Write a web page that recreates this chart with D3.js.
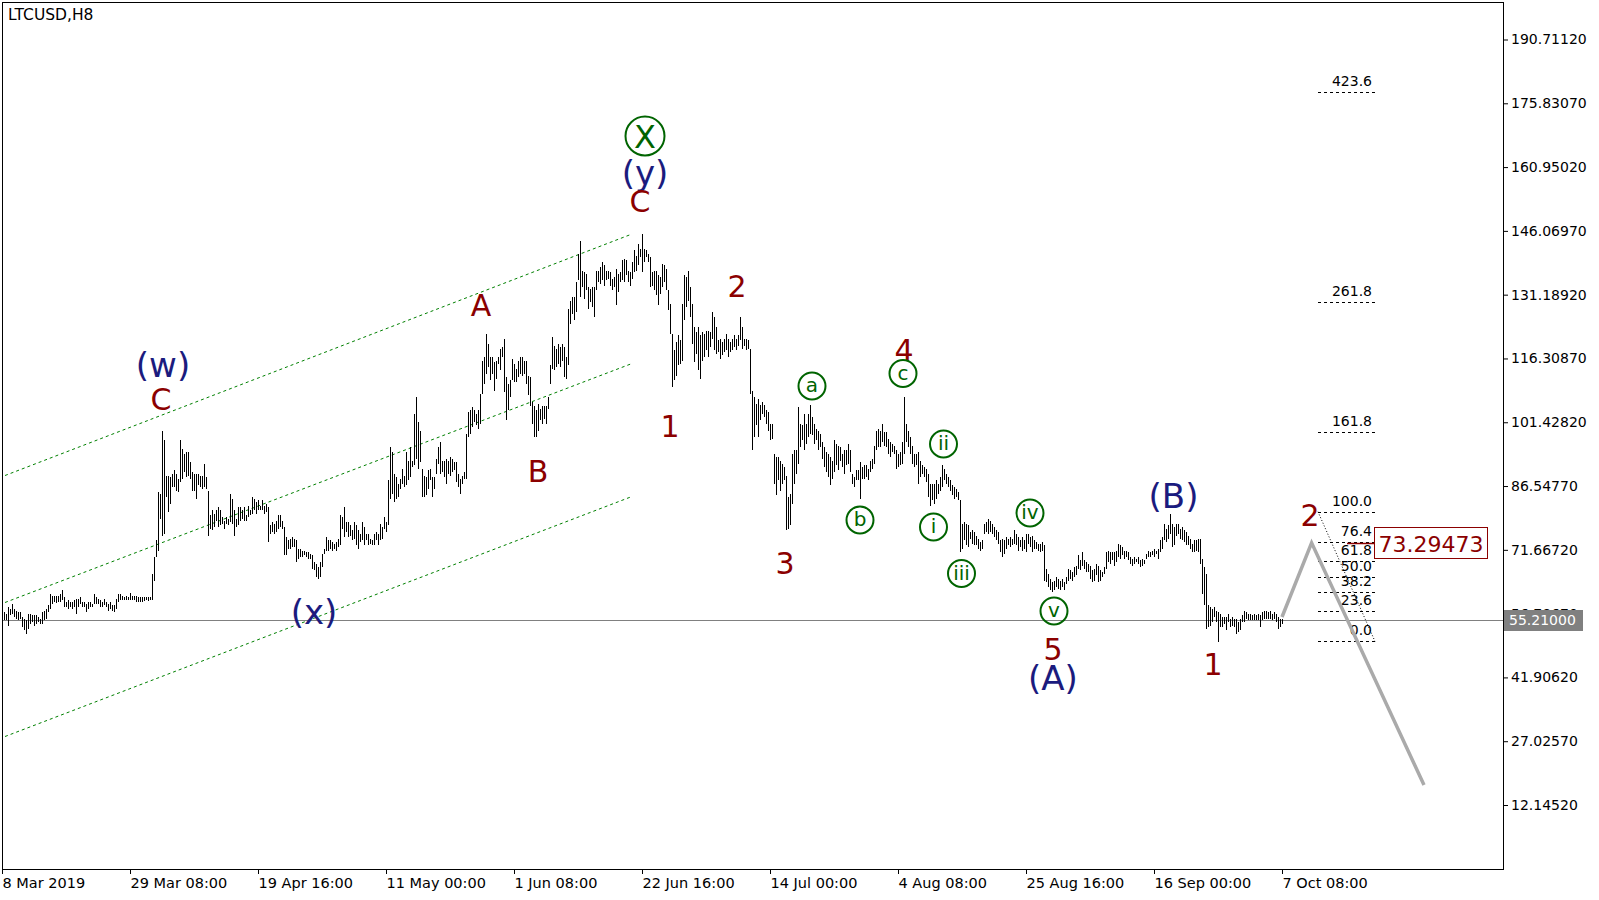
<!DOCTYPE html>
<html>
<head>
<meta charset="utf-8">
<script src="https://cdn.jsdelivr.net/npm/d3@7"></script>
<style>
  body { margin: 0; background: #fff; }
  svg { display: block; }
  text { font-family: "DejaVu Sans", Tahoma, sans-serif; }
</style>
</head>
<body>
<svg id="chart" width="1599" height="900"></svg>
<script>
// barras H8 do LTCUSD (índice 1 = primeira barra depois de 8 Mar 2019 00:00)
const barHigh = [
  57.2,56.8,58.3,57.9,59.1,57.9,57.5,57.2,57.2,56.0,55.6,55.2,56.8,56.6,56.4,56.4,56.4,56.0,55.6,57.2,
  57.5,57.9,58.7,61.4,61.0,61.0,61.0,61.0,61.3,62.2,60.6,59.5,59.9,59.5,59.5,59.9,60.3,60.3,60.6,59.5,
  59.5,59.1,59.5,59.5,59.1,61.4,60.6,60.3,59.9,59.5,60.3,59.5,59.1,59.5,58.7,58.7,60.3,61.4,61.4,61.0,
  60.6,61.0,60.6,61.6,61.0,61.0,61.0,60.6,60.6,60.6,60.6,60.6,60.6,60.6,66.1,70.0,73.9,85.1,84.7,99.5,
  97.2,89.0,89.0,88.6,89.4,90.2,89.4,88.2,97.3,95.2,94.1,94.5,94.5,92.1,89.8,89.4,89.4,89.4,89.0,89.0,
  91.7,88.6,85.5,79.7,80.9,80.1,80.9,81.6,80.9,79.3,78.5,79.3,78.9,84.7,83.6,80.9,78.9,81.6,81.6,80.9,
  81.6,79.7,82.0,80.9,84.1,83.6,82.8,83.2,82.0,83.2,82.0,82.4,81.6,77.4,78.1,77.8,78.5,79.7,79.7,78.5,
  77.0,74.6,73.9,74.3,74.6,74.3,73.9,71.9,71.9,71.5,71.5,71.1,71.1,70.8,70.4,68.8,68.4,67.6,68.8,70.8,71.9,74.6,73.9,
  73.9,73.5,73.1,73.5,74.3,79.7,79.3,81.6,78.1,78.1,77.4,76.2,78.1,77.4,76.2,75.4,78.1,77.0,75.4,75.4,
  74.3,73.9,75.4,75.8,75.4,77.7,77.0,79.3,78.1,87.9,95.6,94.5,89.4,88.6,87.1,88.2,90.6,89.0,94.5,92.5,
  95.6,92.5,103.4,107.3,101.5,99.5,90.6,89.0,88.6,90.2,90.6,88.6,88.6,92.9,95.6,96.8,92.5,92.5,92.9,92.5,
  93.3,92.9,92.1,92.1,89.4,88.2,89.0,89.8,98.7,103.8,104.2,105.0,104.2,103.4,104.2,108.1,115.8,116.6,122.1,119.7,
  116.6,116.6,115.5,115.8,116.6,118.6,118.9,120.9,111.9,110.4,111.2,116.2,115.1,113.9,115.8,116.6,116.6,115.8,115.8,112.3,
  111.9,106.1,105.3,104.2,105.7,104.6,105.3,105.3,105.3,107.3,114.7,121.3,119.3,118.6,119.7,118.9,119.7,118.9,116.6,127.9,
  129.8,130.6,130.6,134.1,140.7,143.8,136.8,136.4,136.1,132.9,132.6,132.9,132.9,136.8,136.8,137.6,138.8,138.0,136.8,136.8,
  136.4,134.9,135.3,137.2,136.1,136.4,139.2,139.6,139.3,136.8,136.4,138.8,141.5,140.3,143.0,141.9,145.4,141.9,141.5,140.7,
  139.9,136.4,136.8,136.8,135.7,135.3,138.4,138.0,137.2,132.2,129.1,122.1,118.2,120.1,121.7,120.5,129.1,135.7,135.3,136.8,
  133.0,129.1,123.6,122.5,123.6,121.7,122.5,122.1,122.8,122.8,122.5,127.1,126.0,123.6,120.5,120.9,120.1,120.9,122.1,120.9,
  120.1,120.9,121.7,120.9,121.7,126.0,123.6,120.9,120.9,120.5,118.6,108.8,107.3,105.7,106.9,105.4,106.1,105.4,104.2,103.8,
  101.1,101.1,94.1,93.3,93.3,92.5,91.8,91.0,89.0,84.0,84.8,94.1,94.9,94.9,105.0,101.1,100.7,103.4,101.1,103.4,
  105.4,102.6,101.1,99.9,99.5,98.7,96.8,95.6,94.5,94.1,93.3,92.5,97.2,96.4,96.0,95.6,94.1,94.9,94.9,96.4,
  94.9,89.4,88.6,90.2,90.2,92.1,91.0,91.4,91.4,90.6,92.5,92.9,96.0,99.5,99.9,99.5,101.1,99.1,99.1,97.6,
  96.8,96.4,96.0,94.9,94.1,94.5,96.8,107.3,101.1,99.5,97.9,96.0,94.1,94.1,94.5,92.5,91.4,91.0,90.6,89.4,
  87.1,87.1,87.1,87.9,87.1,88.6,91.4,90.6,89.4,88.6,87.9,86.7,86.3,85.9,85.1,
  83.2,77.8,78.1,77.8,77.4,
  75.8,76.2,75.8,75.0,74.3,73.5,73.9,77.8,78.1,78.9,78.5,77.8,77.0,76.2,75.8,73.9,74.3,73.9,74.6,74.3,
  74.6,74.3,76.2,75.4,74.6,73.9,74.6,73.9,75.4,75.4,74.6,75.0,73.9,73.5,73.1,73.1,73.5,72.7,67.3,66.1,
  64.9,64.1,64.5,65.3,64.9,64.5,64.9,64.1,65.3,67.3,66.9,66.5,67.6,68.0,70.4,69.2,71.2,69.2,68.8,68.4,
  68.0,66.9,67.3,68.4,68.0,66.9,66.5,67.6,71.2,71.5,71.2,71.2,71.2,71.5,73.1,72.7,72.3,71.5,71.5,71.2,
  70.0,69.6,70.0,69.6,70.0,69.2,69.6,69.2,70.8,71.5,71.2,71.5,71.9,71.5,71.9,73.9,74.6,77.8,76.6,77.4,
  80.1,77.8,77.0,77.8,77.8,76.6,77.0,76.2,75.8,75.0,74.3,73.1,73.9,73.9,74.3,74.3,69.6,67.6,66.1,58.7,
  58.3,57.9,58.3,57.5,57.1,56.8,56.0,56.0,56.0,56.8,55.6,56.0,55.6,55.6,54.8,55.6,56.4,57.5,57.1,56.8,
  56.8,56.4,56.8,56.4,56.8,56.4,57.1,57.5,57.5,57.1,57.5,56.8,57.1,56.8,56.0,55.6,55.6
];

const barLow = [
  55.2,55.2,54.0,56.4,56.6,56.0,55.6,55.2,55.6,53.7,52.9,52.1,53.3,54.4,54.8,54.0,54.4,54.8,54.4,54.4,
  55.2,55.6,57.2,57.9,59.1,59.5,59.3,59.5,59.5,59.9,58.3,58.3,57.9,58.3,57.9,58.3,56.8,58.3,59.1,58.3,
  58.3,57.2,57.9,58.3,58.3,59.1,59.1,59.1,58.3,58.3,58.7,58.3,57.5,57.9,57.5,57.2,57.9,59.5,59.9,59.9,
  59.9,59.9,59.9,59.9,59.9,59.9,59.5,59.5,59.5,59.5,59.7,59.9,59.7,59.9,59.9,64.5,70.0,71.5,78.9,75.0,
  75.4,84.0,80.5,82.4,86.3,86.3,85.5,85.1,87.5,88.2,89.8,88.6,89.0,88.2,85.5,85.5,83.6,86.7,86.3,85.9,
  86.3,85.9,75.0,76.6,76.2,77.0,78.5,77.0,77.4,77.8,76.6,77.8,77.4,78.1,77.8,75.0,77.0,77.4,78.5,78.9,
  78.5,78.5,79.3,79.7,80.1,80.9,80.1,80.9,80.9,80.9,80.1,80.5,73.5,75.4,75.8,75.4,75.8,76.6,77.0,76.6,
  70.4,70.4,71.9,71.9,72.3,72.3,68.8,69.6,70.0,70.0,70.4,70.0,69.6,69.6,67.3,66.9,65.3,64.9,65.3,67.6,70.8,71.5,71.5,
  71.9,71.5,71.9,71.5,72.3,72.7,76.6,74.6,75.8,74.6,75.0,73.9,74.3,72.7,71.9,73.5,73.9,72.7,73.9,72.7,
  73.1,72.7,72.7,73.9,72.7,73.9,74.3,76.6,75.8,77.4,83.6,84.7,82.8,83.6,83.9,85.9,87.1,86.3,86.7,87.9,
  88.6,91.0,91.4,92.9,90.6,92.1,83.9,83.9,84.4,85.9,87.9,83.9,85.9,89.4,91.7,89.4,89.8,88.6,87.1,89.4,
  89.0,89.8,90.2,87.5,86.3,84.7,87.1,88.2,88.2,98.0,98.7,100.3,101.5,100.7,99.9,101.1,108.1,110.4,112.7,114.3,
  111.2,112.7,108.8,111.6,115.1,113.5,116.6,108.4,101.9,104.2,107.3,111.2,110.8,110.8,111.9,112.7,112.3,112.7,110.4,107.7,
  105.3,101.1,98.0,98.0,99.5,101.9,101.1,102.2,101.1,104.6,110.4,113.9,113.5,114.3,115.1,114.3,115.8,111.9,111.6,114.7,
  124.4,126.7,125.2,127.1,134.5,130.6,132.9,130.2,132.2,127.9,129.4,128.3,125.9,132.2,134.1,133.7,134.5,133.3,134.5,134.9,
  133.3,132.2,132.9,128.7,131.8,134.1,134.5,134.1,135.7,134.1,133.3,134.9,136.4,136.8,138.0,139.9,136.4,138.8,139.9,138.8,
  132.9,133.3,132.2,131.0,128.7,131.4,132.9,134.1,132.2,127.5,122.1,109.6,111.2,112.3,114.7,115.1,115.8,125.2,128.3,129.8,
  126.0,119.7,115.5,117.4,113.5,111.6,115.8,116.6,118.2,116.6,118.9,120.9,118.2,117.4,117.8,116.2,117.0,117.8,118.2,116.6,
  117.8,118.2,119.0,118.2,119.3,120.5,118.6,119.3,118.2,118.6,108.1,94.9,98.0,100.7,98.0,101.9,103.4,102.6,101.1,99.5,
  97.2,97.6,87.1,84.4,87.9,85.5,87.1,87.9,76.2,76.6,77.4,82.4,87.1,89.4,91.7,95.6,97.2,94.9,96.4,98.0,
  98.7,98.4,96.4,97.2,94.9,95.6,92.9,91.0,89.8,88.6,86.7,88.3,89.8,91.4,90.2,92.5,91.0,89.4,91.4,91.8,
  89.8,87.1,86.3,87.9,87.9,83.6,88.3,88.3,88.6,87.9,89.8,90.6,91.8,94.9,95.6,95.6,96.8,96.0,95.6,94.1,
  93.3,94.5,94.1,90.6,91.0,91.4,91.8,94.1,96.8,95.6,94.1,91.8,91.0,91.4,87.1,88.6,89.4,88.6,87.5,84.0,
  82.0,83.2,82.4,83.6,84.8,85.5,86.3,87.9,87.1,86.3,85.5,84.4,83.6,84.0,83.2,
  71.2,71.9,73.9,72.7,72.3,
  74.3,73.1,72.7,72.7,71.9,71.5,71.9,75.4,75.8,75.4,75.8,75.4,74.6,73.9,73.1,71.2,70.0,70.8,71.9,72.7,
  72.3,72.7,73.1,72.7,71.5,72.3,71.5,71.9,71.2,73.1,72.3,71.2,71.9,71.9,71.5,71.2,71.5,64.5,64.1,63.0,
  62.2,61.8,62.2,63.0,62.6,62.2,63.0,62.2,63.8,64.5,64.9,64.5,65.3,65.7,67.3,66.9,68.0,67.3,66.5,66.5,
  64.9,64.1,64.5,65.7,64.1,64.5,65.3,66.1,67.3,68.8,68.4,69.2,68.0,68.8,70.0,69.6,70.4,69.6,70.0,69.2,
  68.4,68.0,68.4,68.8,68.4,67.6,68.0,68.4,69.6,70.0,70.0,70.4,70.0,70.8,69.6,71.2,71.9,73.9,73.5,74.3,
  75.4,72.3,72.7,75.0,75.4,74.3,73.9,73.5,72.7,72.7,71.9,71.2,71.2,71.5,71.2,68.4,61.4,58.7,53.3,53.7,
  54.0,54.8,56.0,54.8,50.2,53.7,53.7,54.4,52.9,54.8,53.7,54.0,53.7,52.1,52.5,52.9,54.8,54.8,55.6,55.2,
  55.2,55.2,55.2,55.2,55.2,53.7,55.2,55.6,55.6,55.6,55.6,55.2,55.6,54.8,53.3,53.7,54.4
];

// ticks do eixo de preço
const yTicks = [12.1452, 27.0257, 41.9062, 56.7867, 71.6672, 86.5477, 101.4282,
  116.3087, 131.1892, 146.0697, 160.9502, 175.8307, 190.7112];

// ticks de tempo (a cada 64 barras)
const xTickBars = [0, 64, 128, 192, 256, 320, 384, 448, 512, 576, 640];
const xTickLabels = ["8 Mar 2019", "29 Mar 08:00", "19 Apr 16:00", "11 May 00:00", "1 Jun 08:00",
  "22 Jun 16:00", "14 Jul 00:00", "4 Aug 08:00", "25 Aug 16:00", "16 Sep 00:00", "7 Oct 08:00"];

const lastPrice = 55.21;

// canal (linhas verdes pontilhadas)
const channelBars = [1.5, 315];
const channelUpper = [89.0, 145.34];
const channelMiddle = [59.38, 115.13];
const channelLower = [28.12, 84.11];

// fibonacci
const fibLow = 50.30;
const fibHigh = 80.55;
const fibLevels = [0, 23.6, 38.2, 50.0, 61.8, 76.4, 100.0, 161.8, 261.8, 423.6];
const fibBars = [658, 686.5];
const fibTarget = 73.29473;

// projeção cinza
const projBars = [640, 654.8, 711];
const projPrices = [56.0, 73.29473, 16.8];

// contagem de ondas
const waveLabels = [
  { text: "(w)", bar: 80.5, price: 114.8, type: "navy" },
  { text: "C", bar: 79.5, price: 106.85, type: "red" },
  { text: "(x)", bar: 156, price: 57.17, type: "navy" },
  { text: "A", bar: 239.5, price: 128.78, type: "red" },
  { text: "B", bar: 268, price: 89.94, type: "red" },
  { text: "X", bar: 321.5, price: 168.2, type: "bigcircle" },
  { text: "(y)", bar: 321.5, price: 159.57, type: "navy" },
  { text: "C", bar: 319, price: 153.0, type: "red" },
  { text: "1", bar: 334, price: 100.44, type: "red" },
  { text: "2", bar: 367.5, price: 133.1, type: "red" },
  { text: "3", bar: 391.5, price: 68.59, type: "red" },
  { text: "4", bar: 451, price: 118.28, type: "red" },
  { text: "a", bar: 405, price: 109.88, type: "circle" },
  { text: "b", bar: 429, price: 78.63, type: "circle" },
  { text: "c", bar: 450.5, price: 112.8, type: "circle" },
  { text: "i", bar: 465.75, price: 77.0, type: "circle" },
  { text: "ii", bar: 470.75, price: 96.35, type: "circle" },
  { text: "iii", bar: 479.75, price: 66.14, type: "circle" },
  { text: "iv", bar: 514, price: 80.26, type: "circle" },
  { text: "v", bar: 526, price: 57.4, type: "circle" },
  { text: "5", bar: 525.5, price: 48.53, type: "red" },
  { text: "(A)", bar: 525.5, price: 41.77, type: "navy" },
  { text: "(B)", bar: 585.75, price: 84.22, type: "navy" },
  { text: "1", bar: 605.5, price: 45.03, type: "red" },
  { text: "2", bar: 654, price: 79.79, type: "red" }
];

const colors = {
  red: "#8b0000",
  navy: "#1b1b7e",
  green: "#006400",
  channel: "#008000",
  proj: "#aaaaaa",
  lastLine: "#808080"
};

// área do gráfico
const plot = { left: 2, right: 1503, top: 2, bottom: 869 };

const svg = d3.select("#chart");

const x = d3.scaleLinear().domain([0, 750.5]).range([plot.left, plot.right]);
const y = d3.scaleLinear().domain([12.1452, 190.7112]).range([805, 39.5]);

svg.append("clipPath").attr("id", "clip")
  .append("rect")
  .attr("x", plot.left).attr("y", plot.top)
  .attr("width", plot.right - plot.left).attr("height", plot.bottom - plot.top);

const g = svg.append("g").attr("clip-path", "url(#clip)");

// linha do último preço
g.append("line")
  .attr("x1", plot.left).attr("x2", plot.right)
  .attr("y1", Math.round(y(lastPrice)) + 0.5).attr("y2", Math.round(y(lastPrice)) + 0.5)
  .attr("stroke", colors.lastLine)
  .attr("stroke-width", 1);

// canal
const chLine = d3.line().x((d) => x(d[0])).y((d) => y(d[1]));
[channelUpper, channelMiddle, channelLower].forEach((ch) => {
  g.append("path")
    .attr("d", chLine(channelBars.map((b, k) => [b, ch[k]])))
    .attr("fill", "none")
    .attr("stroke", colors.channel)
    .attr("stroke-width", 1)
    .attr("stroke-dasharray", "3,3");
});

// níveis de fibo
const fibPrice = (lv) => fibLow + (fibHigh - fibLow) * lv / 100;
const fibG = g.append("g");
fibLevels.forEach((lv) => {
  const yy = Math.round(y(fibPrice(lv))) + 0.5;
  fibG.append("line")
    .attr("x1", x(fibBars[0])).attr("x2", x(fibBars[1]))
    .attr("y1", yy).attr("y2", yy)
    .attr("stroke", "#000")
    .attr("stroke-dasharray", "3,3");
  fibG.append("text")
    .attr("x", x(fibBars[1]) - 3)
    .attr("y", yy - 6.5)
    .attr("text-anchor", "end")
    .attr("font-size", 14)
    .attr("fill", "#000")
    .text(lv.toFixed(1));
});
// diagonal pontilhada do fibo
fibG.append("line")
  .attr("x1", x(fibBars[0])).attr("y1", y(fibPrice(100)))
  .attr("x2", x(fibBars[1])).attr("y2", y(fibPrice(0)))
  .attr("stroke", "#000")
  .attr("stroke-width", 1)
  .attr("stroke-dasharray", "1,2");

// barras (máx/mín)
const bars = barHigh.map((h, k) => ({ i: k + 1, high: h, low: barLow[k] }));
g.selectAll(".bar")
  .data(bars)
  .enter()
  .append("line")
  .attr("class", "bar")
  .attr("x1", (d) => Math.round(x(d.i)) + 0.5)
  .attr("x2", (d) => Math.round(x(d.i)) + 0.5)
  .attr("y1", (d) => Math.round(y(Math.max(d.high, d.low))))
  .attr("y2", (d) => Math.max(Math.round(y(Math.min(d.high, d.low))), Math.round(y(Math.max(d.high, d.low))) + 1))
  .attr("stroke", "#000")
  .attr("stroke-width", 1)
  .attr("shape-rendering", "crispEdges");

// projeção
g.append("path")
  .attr("d", d3.line().x((d) => x(d[0])).y((d) => y(d[1]))(projBars.map((b, k) => [b, projPrices[k]])))
  .attr("fill", "none")
  .attr("stroke", colors.proj)
  .attr("stroke-width", 3.5)
  .attr("stroke-linejoin", "miter");

// caixa do alvo (73.29473)
const ty = Math.round(y(fibTarget)) + 0.5;
g.append("line")
  .attr("x1", x(fibBars[0]) + 29).attr("x2", x(fibBars[1]))
  .attr("y1", ty).attr("y2", ty)
  .attr("stroke", colors.red)
  .attr("stroke-width", 1.5);
g.append("rect")
  .attr("x", x(fibBars[1]) - 0.5)
  .attr("y", ty - 16)
  .attr("width", 113)
  .attr("height", 31)
  .attr("fill", "#fff")
  .attr("stroke", colors.red)
  .attr("stroke-width", 1);
g.append("text")
  .attr("x", x(fibBars[1]) + 56)
  .attr("y", ty + 8)
  .attr("text-anchor", "middle")
  .attr("font-size", 22)
  .attr("fill", colors.red)
  .text(fibTarget.toFixed(5));

// rótulos das ondas
const labelG = svg.append("g");
waveLabels.forEach((d) => {
  const cx = x(d.bar);
  const cy = y(d.price);
  if (d.type === "circle" || d.type === "bigcircle") {
    const big = d.type === "bigcircle";
    labelG.append("circle")
      .attr("cx", cx).attr("cy", cy)
      .attr("r", big ? 19.5 : 13.5)
      .attr("fill", "none")
      .attr("stroke", colors.green)
      .attr("stroke-width", 2);
    labelG.append("text")
      .attr("x", cx).attr("y", cy)
      .attr("dy", big ? "0.36em" : "0.31em")
      .attr("text-anchor", "middle")
      .attr("font-size", big ? 32 : 20)
      .attr("fill", colors.green)
      .text(d.text);
  } else {
    labelG.append("text")
      .attr("x", cx).attr("y", cy)
      .attr("dy", "0.36em")
      .attr("text-anchor", "middle")
      .attr("font-size", d.type === "navy" ? 34 : 30)
      .attr("fill", colors[d.type])
      .text(d.text);
  }
});

// eixo de preço (direita)
const yAxis = svg.append("g")
  .attr("transform", `translate(${plot.right},0)`)
  .call(d3.axisRight(y).tickValues(yTicks).tickSize(5).tickPadding(3).tickFormat((d) => d.toFixed(5)));
yAxis.select(".domain").remove();
yAxis.selectAll("text").attr("font-size", 14).attr("font-family", "DejaVu Sans").attr("fill", "#000");
yAxis.selectAll("line").attr("stroke", "#000");

// eixo de tempo (embaixo)
const xAxis = svg.append("g")
  .attr("transform", `translate(0,${plot.bottom})`)
  .call(d3.axisBottom(x).tickValues(xTickBars).tickSize(5).tickPadding(4).tickFormat((d, k) => xTickLabels[k]));
xAxis.select(".domain").remove();
xAxis.selectAll("text")
  .attr("font-size", 14.5)
  .attr("font-family", "DejaVu Sans")
  .attr("text-anchor", "start")
  .attr("fill", "#000");
xAxis.selectAll("line").attr("stroke", "#000");

// moldura
svg.append("rect")
  .attr("x", plot.left + 0.5).attr("y", plot.top + 0.5)
  .attr("width", plot.right - plot.left).attr("height", plot.bottom - plot.top)
  .attr("fill", "none")
  .attr("stroke", "#000")
  .attr("stroke-width", 1);

// caixa do último preço
const ly = y(lastPrice);
svg.append("rect")
  .attr("x", plot.right + 1)
  .attr("y", Math.round(ly) - 10)
  .attr("width", 79)
  .attr("height", 21)
  .attr("fill", "#808080");
svg.append("text")
  .attr("x", plot.right + 6)
  .attr("y", Math.round(ly))
  .attr("dy", "0.36em")
  .attr("font-size", 14)
  .attr("fill", "#fff")
  .text(lastPrice.toFixed(5));

// título
svg.append("text")
  .attr("x", 8)
  .attr("y", 20)
  .attr("font-size", 15.5)
  .attr("fill", "#000")
  .text("LTCUSD,H8");
</script>
</body>
</html>
